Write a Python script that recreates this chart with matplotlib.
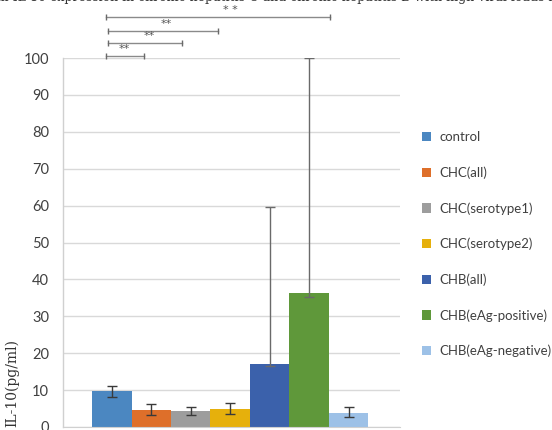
import numpy as np
import matplotlib.pyplot as plt

# grupos y valores de IL-10 (pg/ml)
groups = ['control', 'CHC(all)', 'CHC(serotype1)', 'CHC(serotype2)',
          'CHB(all)', 'CHB(eAg-positive)', 'CHB(eAg-negative)']
means = [9.8, 4.6, 4.3, 5.0, 17.0, 36.2, 3.9]
err_up = [1.4, 1.7, 1.0, 1.4, 42.5, 63.8, 1.4]
err_down = [1.6, 1.3, 1.0, 1.4, 0.4, 1.0, 1.3]
colors = ['#4b87c1', '#de6f2a', '#9d9d9d', '#e6b00c',
          '#3b61ab', '#5f983a', '#9dc1e7']

# comparaciones significativas: (inicio, fin, altura, texto y su posicion)
sig_x0 = [-0.15, -0.09, -0.09, -0.15]
sig_x1 = [0.82, 1.78, 2.70, 5.54]
sig_y = [100.5, 104.1, 107.3, 111.1]
sig_txt = ['**', '**', '**', '* *']
sig_tx = [0.31, 0.95, 1.38, 3.0]

plt.rcParams['font.family'] = ['Lato', 'DejaVu Sans']

fig = plt.figure(figsize=(5.52, 4.30), dpi=100)
ax = fig.add_axes([0.114, 0.007, 0.611, 0.858])

x = np.arange(len(groups))
for i in range(len(groups)):
    ax.bar(x[i], means[i], width=1.0, color=colors[i], label=groups[i], zorder=2)

# barras de error
for i in range(len(groups)):
    ecol = '#3a3a3a' if err_up[i] < 10 else '#6a6a6a'
    ax.errorbar(x[i], means[i], yerr=[[err_down[i]], [err_up[i]]], fmt='none',
                ecolor=ecol, elinewidth=1.0, capsize=3.5, capthick=1.0, zorder=3)

ax.set_xlim(-1.24, 7.31)
ax.set_ylim(0, 100)
ax.set_yticks(np.arange(0, 101, 10))
ax.yaxis.grid(True, color='#d9d9d9', linewidth=1.0, zorder=0)
ax.tick_params(axis='y', length=0, labelsize=10.5, labelcolor='#404040', pad=10)
ax.set_xticks([])
for s in ['top', 'right']:
    ax.spines[s].set_visible(False)
ax.spines['left'].set_color('#d0d0d0')
ax.spines['bottom'].set_color('#d0d0d0')
ax.spines['left'].set_linewidth(1.0)

# lineas de significancia
for a, b, h, t, tx in zip(sig_x0, sig_x1, sig_y, sig_txt, sig_tx):
    ax.plot([a, b], [h, h], color='#8a8a8a', lw=1.0, clip_on=False,
            marker='|', markersize=5, markeredgecolor='#6a6a6a')
    ax.text(tx, h + 0.5, t, ha='center', va='bottom', fontsize=8,
            family='DejaVu Sans', color='#555555')

# etiqueta del eje y (recortada abajo)
fig.text(0.022, 0.008, 'IL-10(pg/ml)', rotation=90, ha='center', va='bottom',
         fontsize=10, family='DejaVu Serif', color='#333333')

# titulo parcialmente fuera del lienzo
fig.text(0.5, 1.006, 'Serum IL-10 expression in chronic hepatitis C and chronic hepatitis B with high viral loads in the',
         ha='center', va='center', fontsize=9, family='DejaVu Serif', color='#333333')

leg = ax.legend(loc='center left', bbox_to_anchor=(1.03, 0.495), frameon=False,
                fontsize=9.5, handlelength=0.7, handleheight=0.7,
                handletextpad=0.6, labelspacing=1.75)
for t in leg.get_texts():
    t.set_color('#404040')

plt.savefig('out.png', dpi=100)
